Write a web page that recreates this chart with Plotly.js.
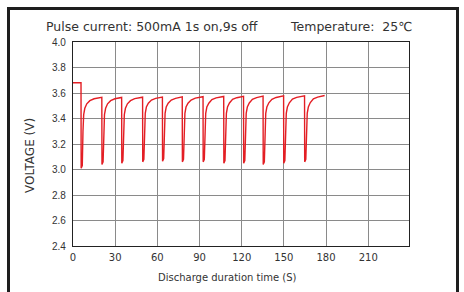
<!DOCTYPE html>
<html><head><meta charset="utf-8">
<script src="https://cdn.plot.ly/plotly-3.0.1.min.js"></script>
<style>
html,body{margin:0;padding:0;background:#fff;overflow:hidden;}
#wrap{position:relative;width:464px;height:292px;}
#chart{width:464px;height:292px;}
#frame{position:absolute;left:7px;top:7px;width:446px;height:300px;border:3px solid #1e1e1e;pointer-events:none;}
</style></head>
<body><div id="wrap"><div id="chart"></div><div id="frame"></div></div>
<script>
// Discharge time (s) and voltage (V)
const timeS = [
  0, 5.7, 5.8, 6.6, 7.1, 7.6, 8.4, 9.8, 12.0, 15.0, 20.5,
  20.6, 21.4, 21.9, 22.4, 23.2, 24.6, 26.8, 29.8, 34.6,
  34.7, 35.5, 36.0, 36.5, 37.3, 38.7, 40.9, 43.9, 49.5,
  49.6, 50.4, 50.9, 51.4, 52.2, 53.6, 55.8, 58.8, 63.6,
  63.7, 64.5, 65.0, 65.5, 66.3, 67.7, 69.9, 72.9, 77.7,
  77.8, 78.6, 79.1, 79.6, 80.4, 81.8, 84.0, 87.0, 92.5,
  92.6, 93.4, 93.9, 94.4, 95.2, 96.6, 98.8, 101.8, 107.2,
  107.3, 108.1, 108.6, 109.1, 109.9, 111.3, 113.5, 116.5, 121.3,
  121.4, 122.2, 122.7, 123.2, 124.0, 125.4, 127.6, 130.6, 135.2,
  135.3, 136.1, 136.6, 137.1, 137.9, 139.3, 141.5, 144.5, 149.8,
  149.9, 150.7, 151.2, 151.7, 152.5, 153.9, 156.1, 159.1, 164.7,
  164.8, 165.6, 166.1, 166.6, 167.4, 168.8, 171.0, 174.0, 179.0
];
const voltage = [
  3.68, 3.68, 3.01, 3.03, 3.30, 3.43, 3.48, 3.515, 3.54, 3.555, 3.566,
  3.04, 3.06, 3.31, 3.43, 3.48, 3.515, 3.54, 3.555, 3.565,
  3.05, 3.07, 3.31, 3.43, 3.48, 3.515, 3.54, 3.556, 3.567,
  3.06, 3.08, 3.32, 3.44, 3.49, 3.52, 3.545, 3.558, 3.568,
  3.065, 3.085, 3.32, 3.44, 3.49, 3.52, 3.545, 3.558, 3.57,
  3.06, 3.08, 3.32, 3.44, 3.49, 3.52, 3.545, 3.56, 3.571,
  3.06, 3.08, 3.32, 3.44, 3.49, 3.52, 3.548, 3.562, 3.573,
  3.05, 3.07, 3.32, 3.44, 3.49, 3.522, 3.55, 3.563, 3.574,
  3.05, 3.07, 3.32, 3.44, 3.49, 3.522, 3.55, 3.564, 3.575,
  3.04, 3.06, 3.32, 3.44, 3.49, 3.523, 3.55, 3.565, 3.577,
  3.05, 3.07, 3.32, 3.44, 3.49, 3.523, 3.552, 3.566, 3.578,
  3.06, 3.08, 3.32, 3.44, 3.49, 3.525, 3.555, 3.568, 3.58
];
const xTicks = [0, 30, 60, 90, 120, 150, 180, 210];
const yTicks = [2.4, 2.6, 2.8, 3.0, 3.2, 3.4, 3.6, 3.8, 4.0];
const titleLeft = "Pulse current: 500mA 1s on,9s off";
const titleRight = "Temperature:\u00a0 25\u2103";
const xTitle = "Discharge duration time (S)";
const yTitle = "VOLTAGE (V)";

const font = "DejaVu Sans, sans-serif";
const trace = {
  x: timeS, y: voltage, type: "scatter", mode: "lines",
  line: {color: "#e31e24", width: 1.4}, hoverinfo: "skip"
};
const layout = {
  width: 464, height: 292,
  margin: {l: 73, r: 55, t: 42, b: 46},
  paper_bgcolor: "#fff", plot_bgcolor: "#fff",
  showlegend: false,
  xaxis: {
    range: [0, 239], tickvals: xTicks, ticktext: xTicks.map(String),
    showgrid: true, gridcolor: "#8a8a8a", gridwidth: 1,
    showline: true, mirror: true, linecolor: "#222", linewidth: 1.2,
    zeroline: false, ticks: "", ticklabelstandoff: 2,
    tickfont: {family: font, size: 10, color: "#333"}
  },
  yaxis: {
    range: [2.4, 4.0], tickvals: yTicks, ticktext: yTicks.map(v => v.toFixed(1)),
    showgrid: true, gridcolor: "#8a8a8a", gridwidth: 1,
    showline: true, mirror: true, linecolor: "#222", linewidth: 1.2,
    zeroline: false, ticks: "", ticklabelstandoff: 4,
    tickfont: {family: "Liberation Sans, Arial, sans-serif", size: 10, color: "#333"}
  },
  annotations: [
    {text: titleLeft, xref: "paper", yref: "paper", x: (44 - 73) / 336, y: (246 - 26) / 204,
     xanchor: "left", yanchor: "middle", showarrow: false, font: {family: font, size: 12.5, color: "#333"}},
    {text: titleRight, xref: "paper", yref: "paper", x: (288 - 73) / 336, y: (246 - 26) / 204,
     xanchor: "left", yanchor: "middle", showarrow: false, font: {family: font, size: 12.5, color: "#333"}},
    {text: xTitle, xref: "paper", yref: "paper", x: (227 - 73) / 336, y: (246 - 277) / 204,
     xanchor: "center", yanchor: "middle", showarrow: false, font: {family: font, size: 10, color: "#333"}},
    {text: yTitle, xref: "paper", yref: "paper", x: (30 - 73) / 336, y: (246 - 156) / 204,
     xanchor: "center", yanchor: "middle", textangle: -90, showarrow: false, font: {family: font, size: 12, color: "#333"}}
  ]
};
Plotly.newPlot("chart", [trace], layout, {staticPlot: true, displayModeBar: false});
</script></body></html>
